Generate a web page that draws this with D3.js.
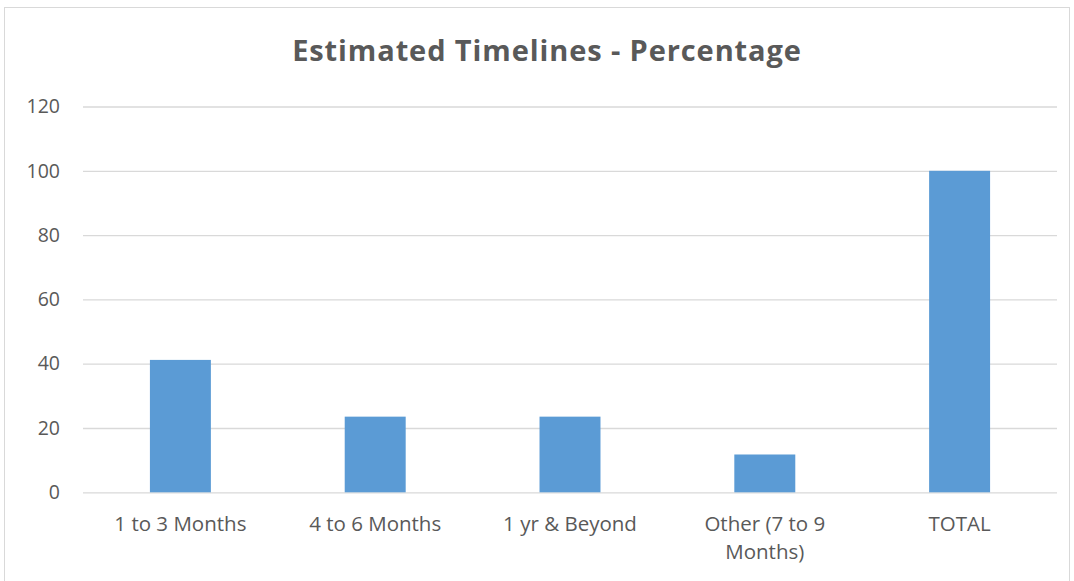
<!DOCTYPE html>
<html>
<head>
<meta charset="utf-8">
<script src="https://cdn.jsdelivr.net/npm/d3@7"></script>
<style>
  html, body { margin: 0; padding: 0; background: #fff; }
  svg { display: block; }
  text { font-family: "Open Sans", "Liberation Sans", sans-serif; fill: #595959; }
</style>
</head>
<body>
<svg id="chart" width="1074" height="581"></svg>
<script>
// Share of responses by estimated timeline
const categories = ["1 to 3 Months", "4 to 6 Months", "1 yr & Beyond", "Other (7 to 9 Months)", "TOTAL"];
const labelLines = [["1 to 3 Months"], ["4 to 6 Months"], ["1 yr & Beyond"], ["Other (7 to 9", "Months)"], ["TOTAL"]];
const percentages = [41.18, 23.53, 23.53, 11.76, 100];
const yTicks = [0, 20, 40, 60, 80, 100, 120];
const chartTitle = "Estimated Timelines - Percentage";

const svg = d3.select("#chart");
const W = 1074, H = 581;
const margin = { left: 83, right: 17, top: 106.5, bottom: 88.7 };

// outer chart frame
svg.append("rect")
  .attr("x", 4.5).attr("y", 7.5)
  .attr("width", W - 9).attr("height", H - 7)
  .attr("fill", "#fff").attr("stroke", "#D9D9D9").attr("stroke-width", 1);

const x = d3.scaleBand()
  .domain(categories)
  .range([margin.left, W - margin.right])
  .paddingInner(0.687)
  .paddingOuter(0.3435);

const y = d3.scaleLinear()
  .domain([0, 120])
  .range([H - margin.bottom, margin.top]);

// horizontal gridlines + value labels
const yAxis = d3.axisLeft(y)
  .tickValues(yTicks)
  .tickSize(-(W - margin.left - margin.right))
  .tickPadding(23);

const gy = svg.append("g")
  .attr("transform", `translate(${margin.left},0)`)
  .call(yAxis);
gy.select(".domain").remove();
gy.selectAll(".tick line").attr("stroke", "#D9D9D9").attr("stroke-width", 1.3);
gy.selectAll(".tick text")
  .attr("font-size", 19.5)
  .attr("fill", "#595959")
  .style("font-family", "'Open Sans', 'Liberation Sans', sans-serif");

// bars
svg.append("g").selectAll("rect")
  .data(percentages)
  .join("rect")
  .attr("x", (d, i) => x(categories[i]))
  .attr("width", x.bandwidth())
  .attr("y", d => y(d))
  .attr("height", d => y(0) - y(d))
  .attr("fill", "#5B9BD5");

// category labels (wrapped)
const xl = svg.append("g");
categories.forEach((c, i) => {
  const t = xl.append("text")
    .attr("x", x(c) + x.bandwidth() / 2)
    .attr("y", 531)
    .attr("text-anchor", "middle")
    .attr("font-size", 20.5);
  labelLines[i].forEach((ln, j) => {
    t.append("tspan")
      .attr("x", x(c) + x.bandwidth() / 2)
      .attr("dy", j === 0 ? 0 : 27.5)
      .text(ln);
  });
});

// title
svg.append("text")
  .attr("x", 547)
  .attr("y", 61)
  .attr("text-anchor", "middle")
  .attr("font-size", 29)
  .attr("font-weight", "bold")
  .attr("letter-spacing", 0.9)
  .text(chartTitle);
</script>
</body>
</html>
